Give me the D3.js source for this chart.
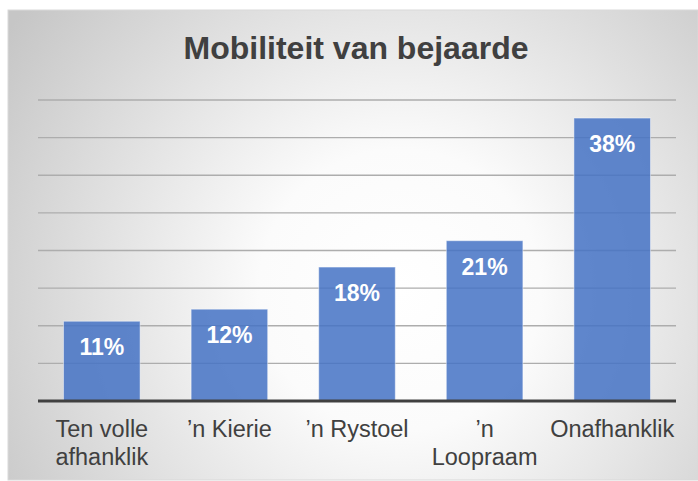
<!DOCTYPE html>
<html>
<head>
<meta charset="utf-8">
<script src="https://cdn.jsdelivr.net/npm/d3@7"></script>
<style>
  html, body { margin: 0; padding: 0; background: #ffffff; }
  svg { display: block; }
</style>
</head>
<body>
<svg id="chart" width="698" height="481"></svg>
<script>
const title = "Mobiliteit van bejaarde";
const categories = ["Ten volle afhanklik", "'n Kierie", "'n Rystoel", "'n Loopraam", "Onafhanklik"];
const categoryLines = [["Ten volle", "afhanklik"], ["\u2019n Kierie"], ["\u2019n Rystoel"], ["\u2019n", "Loopraam"], ["Onafhanklik"]];
const values = [0.106, 0.122, 0.178, 0.213, 0.376];
const yTicks = [0, 0.05, 0.10, 0.15, 0.20, 0.25, 0.30, 0.35, 0.40];

(function () {
const svg = d3.select("#chart");
const font = "'Liberation Sans', Arial, Helvetica, sans-serif";

const defs = svg.append("defs");
const grad = defs.append("radialGradient").attr("id", "bg")
  .attr("gradientUnits", "userSpaceOnUse")
  .attr("cx", 400).attr("cy", 290).attr("r", 470);
grad.append("stop").attr("offset", "0%").attr("stop-color", "#ffffff");
grad.append("stop").attr("offset", "30%").attr("stop-color", "#fbfbfb");
grad.append("stop").attr("offset", "100%").attr("stop-color", "#c6c6c6");

svg.append("rect").attr("x", 8).attr("y", 10).attr("width", 690).attr("height", 470)
  .attr("fill", "url(#bg)").attr("stroke", "#d9d9d9").attr("stroke-width", 1);

const pLeft = 38, pRight = 676, pTop = 100, pBottom = 401;

const x = d3.scaleBand().domain(categories).range([pLeft, pRight]).paddingInner(0.4).paddingOuter(0.2);
const y = d3.scaleLinear().domain([0, 0.40]).range([pBottom, pTop]);

svg.append("g").selectAll("line").data(yTicks.filter(t => t > 0)).join("line")
  .attr("x1", pLeft).attr("x2", pRight)
  .attr("y1", d => y(d)).attr("y2", d => y(d))
  .attr("stroke", "#adadad").attr("stroke-width", 1.3);

svg.append("g").selectAll("rect").data(values).join("rect")
  .attr("x", (d, i) => x(categories[i]))
  .attr("width", x.bandwidth())
  .attr("y", d => y(d))
  .attr("height", d => y(0) - y(d))
  .attr("fill", "#4472c4").attr("fill-opacity", 0.85)
  .attr("stroke", "#ffffff").attr("stroke-opacity", 0.45).attr("stroke-width", 1);

const fmt = d3.format(".0%");
svg.append("g").selectAll("text").data(values).join("text")
  .attr("x", (d, i) => x(categories[i]) + x.bandwidth() / 2)
  .attr("y", d => y(d) + 34)
  .attr("text-anchor", "middle")
  .attr("font-family", font).attr("font-weight", "bold").attr("font-size", 23)
  .attr("fill", "#ffffff")
  .text(d => fmt(d));

svg.append("line").attr("x1", pLeft).attr("x2", pRight).attr("y1", pBottom).attr("y2", pBottom)
  .attr("stroke", "#404040").attr("stroke-width", 3.2);

const xl = svg.append("g").selectAll("text").data(categories).join("text")
  .attr("x", d => x(d) + x.bandwidth() / 2)
  .attr("y", 437)
  .attr("text-anchor", "middle")
  .attr("font-family", font).attr("font-size", 23.5)
  .attr("fill", "#404040");
xl.each(function(d, i) {
  const t = d3.select(this);
  categoryLines[i].forEach((line, j) => {
    t.append("tspan").attr("x", x(d) + x.bandwidth() / 2).attr("dy", j === 0 ? 0 : 28).text(line);
  });
});

svg.append("text").attr("x", 356).attr("y", 59)
  .attr("text-anchor", "middle")
  .attr("font-family", font).attr("font-weight", "bold").attr("font-size", 32)
  .attr("fill", "#404040")
  .text(title);
})();
</script>
</body>
</html>
